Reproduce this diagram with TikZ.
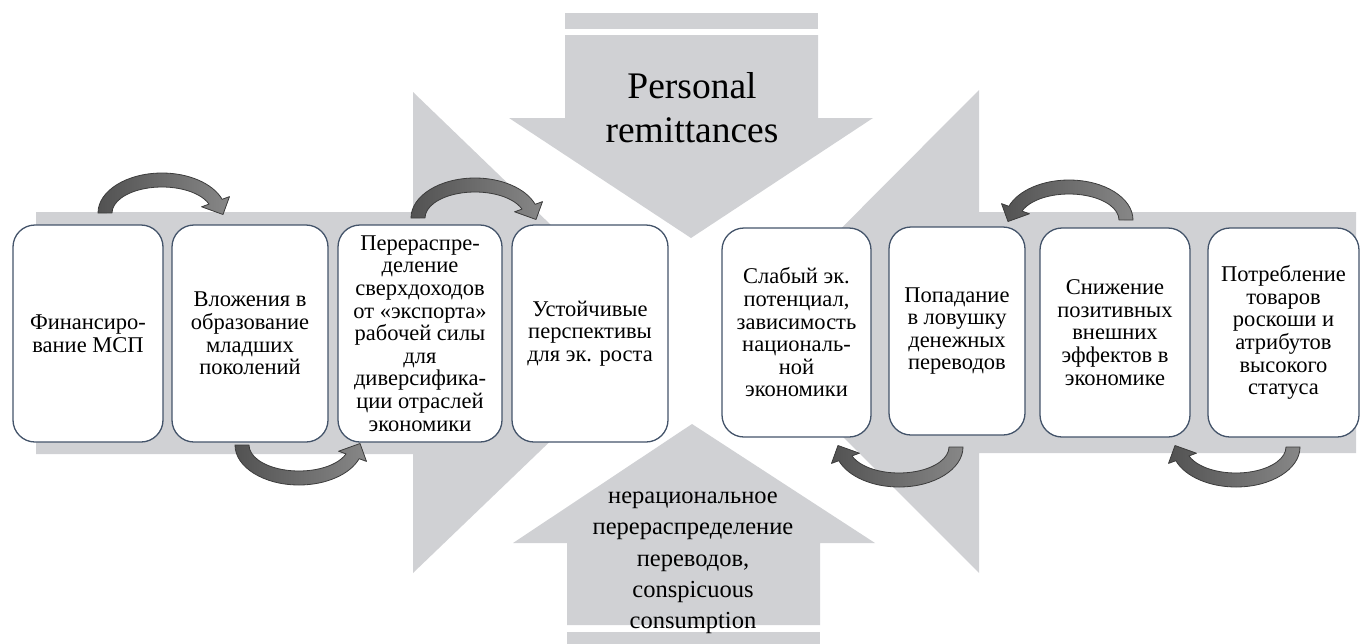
\documentclass[tikz,border=0pt]{standalone}
\usepackage{fontspec}
\setmainfont{Liberation Serif}
\usetikzlibrary{calc}
\definecolor{bandgray}{RGB}{208,209,212}
\definecolor{boxline}{RGB}{68,84,106}
\definecolor{arrdark}{RGB}{82,82,82}
\definecolor{arrlight}{RGB}{135,135,135}
\definecolor{arrline}{RGB}{60,60,60}
\tikzset{
  stagebox/.style={draw=boxline, line width=1.3pt, fill=white, rounded corners=22pt,
    align=center, inner sep=0pt, minimum height=217pt,
    font=\rmfamily\fontsize{22.5}{22.6}\selectfont},
  bigshape/.style={fill=bandgray, draw=none},
  curvearrow/.style={left color=arrdark, right color=arrlight, draw=arrline,
    line width=0.8pt, line join=round},
}
\newcommand{\mycurvedarrow}[1]{%
  \begin{scope}[#1]
    \shadedraw[curvearrow] (-64,0) arc[start angle=180, end angle=340, x radius=64, y radius=40]
      -- (67.5,-16.4) -- (61,1.5) -- (39.6,-6.2) -- (47,-8.9)
      arc[start angle=340, end angle=180, x radius=50, y radius=26] -- cycle;
  \end{scope}}
\begin{document}
\begin{tikzpicture}[x=1pt,y=-1pt]
\useasboundingbox (0,0) rectangle (1360,643);
% big gray shapes
\fill[bigshape] (565,13) rectangle (818,29);
\fill[bigshape] (565,35) -- (818,35) -- (818,118) -- (873,118) -- (691,238)
  -- (509,118) -- (565,118) -- cycle;
\fill[bigshape] (36,212) -- (413,212) -- (413,92) -- (663,333) -- (413,573)
  -- (413,454) -- (36,454) -- cycle;
\fill[bigshape] (1356,212) -- (979,212) -- (979,90) -- (738,332) -- (979,573)
  -- (979,453) -- (1356,453) -- cycle;
\fill[bigshape] (567,625) -- (567,543) -- (513,543) -- (692,424) -- (875,543)
  -- (820,543) -- (820,625) -- cycle;
\fill[bigshape] (567,632) rectangle (820,645);
% texts of big arrows
\node[font=\rmfamily\fontsize{37.5}{44}\selectfont, align=center, inner sep=0pt] (remit) at (692,108)
  {Personal\\remittances};
\node[font=\rmfamily\fontsize{24.5}{31.3}\selectfont, align=center, inner sep=0pt] (irr) at (693,563)
  {нерациональное\\перераспределение\\переводов,\\conspicuous\\consumption};
% boxes
\node[stagebox, minimum width=150pt] (b1) at (88,333.5) {Финансиро-\\вание МСП};
\node[stagebox, minimum width=156pt] (b2) at (250,333.5) {Вложения в\\образование\\младших\\поколений};
\node[stagebox, minimum width=164pt] (b3) at (420,333.5) {Перераспре-\\деление\\сверхдоходов\\от «экспорта»\\рабочей силы\\для\\диверсифика-\\ции отраслей\\экономики};
\node[stagebox, minimum width=156pt] (b4) at (590,333.5) {Устойчивые\\перспективы\\для эк. роста};
\node[stagebox, minimum width=149pt, minimum height=209pt] (b5) at (796.5,332.5) {Слабый эк.\\потенциал,\\зависимость\\националь-\\ной\\экономики};
\node[stagebox, minimum width=136pt, minimum height=208pt] (b6) at (957,331) {Попадание\\в ловушку\\денежных\\переводов};
\node[stagebox, minimum width=150pt, minimum height=209pt] (b7) at (1115,332.5) {Снижение\\позитивных\\внешних\\эффектов в\\экономике};
\node[stagebox, minimum width=151pt, minimum height=209pt] (b8) at (1283.5,332.5) {Потребление\\товаров\\роскоши и\\атрибутов\\высокого\\статуса};
% curved arrows
\mycurvedarrow{shift={(162,213)}}
\mycurvedarrow{shift={(475,218)}}
\mycurvedarrow{shift={(299,445)}, yscale=-1}
\mycurvedarrow{shift={(1069,220)}, xscale=-1}
\mycurvedarrow{shift={(899,447)}, xscale=-1, yscale=-1}
\mycurvedarrow{shift={(1236,447)}, xscale=-1, yscale=-1}
\end{tikzpicture}
\end{document}
